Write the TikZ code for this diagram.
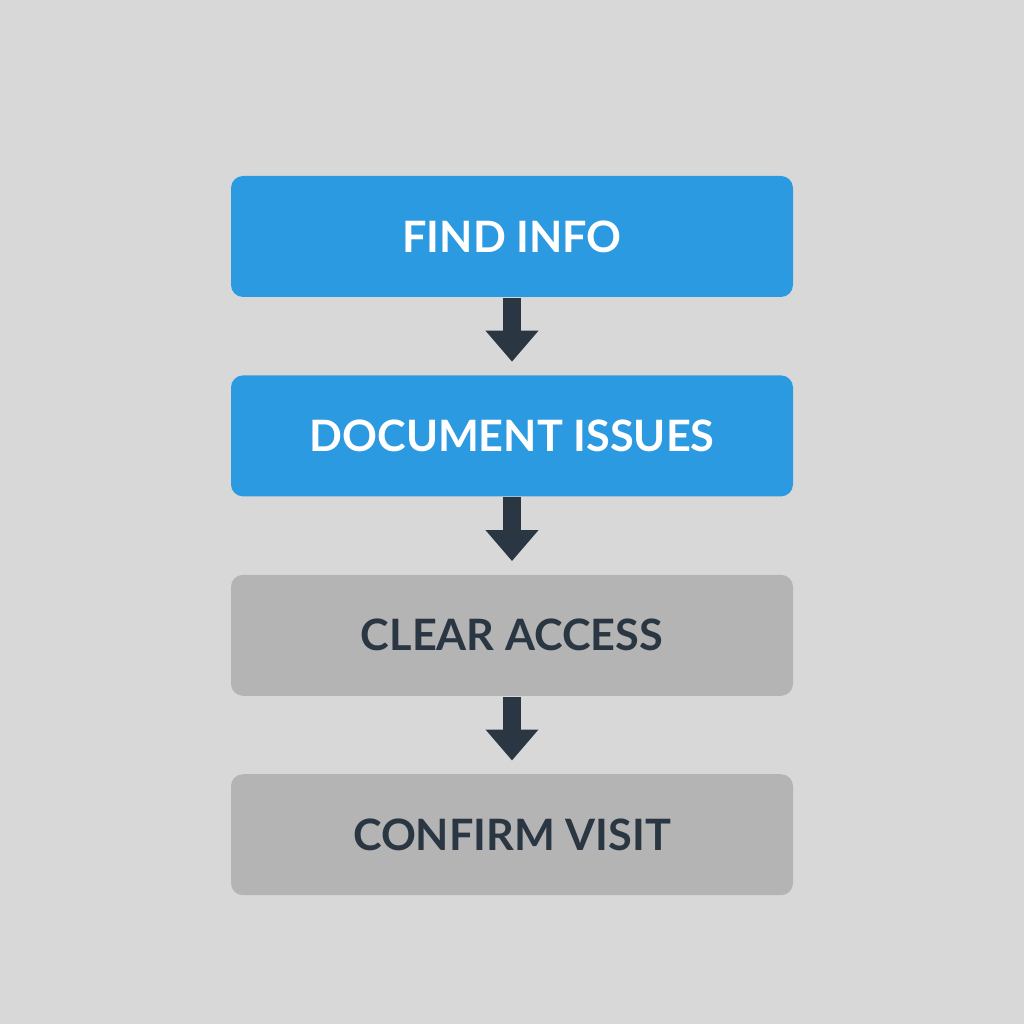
\documentclass[tikz,border=0pt]{standalone}
\usepackage{fontspec}
\setmainfont{Lato}
\usetikzlibrary{positioning, arrows.meta}
\definecolor{bgcol}{HTML}{D8D8D8}
\definecolor{stepblue}{HTML}{2C9AE0}
\definecolor{stepgrey}{HTML}{B4B4B4}
\definecolor{inkdark}{HTML}{2A3742}
\tikzset{
  stepbox/.style={rectangle, rounded corners=1.2mm, minimum width=5.62cm, minimum height=1.21cm,
    text centered, font=\fontsize{12.3}{14}\selectfont\bfseries},
  active/.style={stepbox, fill=stepblue, text=white},
  pending/.style={stepbox, fill=stepgrey, text=inkdark},
  flow/.style={draw=inkdark, line width=0.18cm, shorten >=0.13cm,
    -{Triangle[width=0.51cm, length=0.31cm]}}
}

\begin{document}
\begin{tikzpicture}[node distance=0.77cm]
    \fill[bgcol] (0,0) rectangle (10.24,10.24);
    \useasboundingbox (0,0) rectangle (10.24,10.24);

    \node[active] (find) at (5.12,7.875) {FIND INFO};
    \node[active, below=of find] (document) {DOCUMENT ISSUES};
    \node[pending, below=of document] (clear) {CLEAR ACCESS};
    \node[pending, below=of clear] (confirm) {CONFIRM VISIT};

    \draw[flow] (find) -- (document);
    \draw[flow] (document) -- (clear);
    \draw[flow] (clear) -- (confirm);

\end{tikzpicture}
\end{document}
